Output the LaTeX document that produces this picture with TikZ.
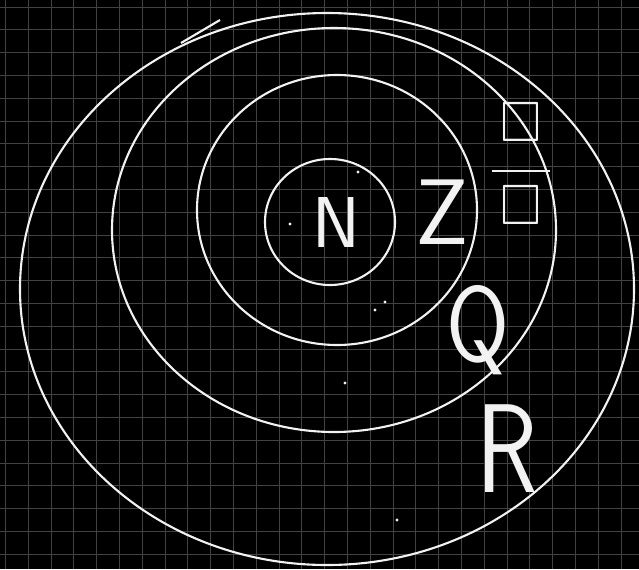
\documentclass[tikz,border=0pt]{standalone}
\usepackage{amsmath,amssymb}
\usepackage{fontspec}
\usepackage{tikz}
\usetikzlibrary{positioning}
\definecolor{board}{RGB}{0,0,0}
\definecolor{gridgray}{RGB}{66,66,66}
\definecolor{chalk}{RGB}{242,242,242}

\begin{document}
\begin{tikzpicture}[
    x=0.02cm, y=-0.02cm,
    gridline/.style={draw=gridgray, line width=0.5pt},
    chalkline/.style={draw=chalk, line width=1.2pt},
    letter/.style={text=chalk, inner sep=0pt, font=\sffamily},
    speck/.style={fill=chalk, draw=none}
]

% Board and grid
\fill[board] (0,0) rectangle (639,569);
\useasboundingbox (0,0) rectangle (639,569);
\foreach \i in {0,...,27} \draw[gridline] ({5.5+22.8*\i},0) -- ({5.5+22.8*\i},569);
\foreach \j in {0,...,24} \draw[gridline] (0,{7+22.8*\j}) -- (639,{7+22.8*\j});

% Level 1: R (outermost)
\draw[chalkline] (327,289) ellipse [x radius=307, y radius=276];
\draw[chalkline] (181,43) -- (220,20);

% Level 2: Q
\draw[chalkline] (334,230) ellipse [x radius=222, y radius=202];

% Level 3: Z
\draw[chalkline] (337,210) ellipse [x radius=140, y radius=135];

% Level 4: N (innermost)
\draw[chalkline] (330,222) ellipse [x radius=65, y radius=63];

% Labels
\node[letter, font=\sffamily\fontsize{41}{41}\selectfont] (natN) at (336,222) {N};
\node[letter, font=\sffamily\fontsize{53}{53}\selectfont] (intZ) at (442,212) {Z};
\node[letter, yscale=1.08, font=\fontsize{30}{30}\selectfont] (ratfrac) at (521,164)
  {\(\dfrac{\hspace{5pt}\raisebox{5pt}{\(\square\)}\hspace{5pt}}{\raisebox{-5pt}{\(\square\)}}\)};
\node[letter, xscale=0.85, font=\sffamily\fontsize{61}{61}\selectfont] (ratQ) at (478,330) {Q};
\node[letter, xscale=0.8, font=\sffamily\fontsize{72}{72}\selectfont] (realR) at (507,449) {R};

% Stray marks
\foreach \p in {(290,224),(358,172),(385,302),(375,310),(345,383),(397,520)}
  \fill[speck] \p circle (1.6);

\end{tikzpicture}
\end{document}
